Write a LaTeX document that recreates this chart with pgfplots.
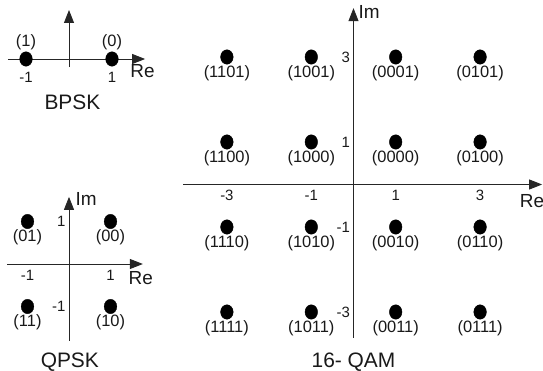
\documentclass[border=0pt]{standalone}
\usepackage{fontspec}
\setmainfont{Liberation Sans}
\usepackage{pgfplots}
\pgfplotsset{compat=1.18}
\usetikzlibrary{arrows.meta}

\pgfplotstableread{
x y label
-1 0 (1)
1 0 (0)
}\bpsk
\pgfplotstableread{
x y label
-1 1 (01)
1 1 (00)
-1 -1 (11)
1 -1 (10)
}\qpsk
\pgfplotstableread{
x y label
-3 3 (1101)
-1 3 (1001)
1 3 (0001)
3 3 (0101)
-3 1 (1100)
-1 1 (1000)
1 1 (0000)
3 1 (0100)
-3 -1 (1110)
-1 -1 (1010)
1 -1 (0010)
3 -1 (0110)
-3 -3 (1111)
-1 -3 (1011)
1 -3 (0011)
3 -3 (0111)
}\qam

\tikzset{
  lbl/.style={font=\fontsize{19}{19}\selectfont, text=black!90},
  ttl/.style={font=\fontsize{21}{21}\selectfont, text=black!90},
}
\pgfplotsset{
  constel/.style={
    axis lines=middle,
    axis line style={line width=0.9bp, black!85, -{Triangle[length=13bp,width=10bp]}},
    major tick length=0pt,
    tick style={draw=none},
    /pgf/number format/assume math mode=true,
    tick label style={font=\fontsize{15}{15}\selectfont, text=black!90},
    xticklabel style={anchor=center, yshift=-11bp},
    anchor=origin,
    clip=false,
  },
  pts/.style={
    only marks, mark=*, mark size=6.3bp,
    mark options={yscale=1.15, fill=black, draw=black},
    point meta=explicit symbolic,
    nodes near coords,
    nodes near coords style={anchor=center, font=\fontsize{16.5}{16.5}\selectfont, text=black!90},
  },
}

\begin{document}
\begin{tikzpicture}
\path[use as bounding box] (0,0) rectangle (543bp,371bp);

% BPSK
\begin{axis}[constel,
  at={(69bp,312bp)},
  x=43bp, y=43bp,
  xmin=-1.42, xmax=1.77, ymin=-0.19, ymax=1.14,
  xtick={-1,1}, xticklabels={-1,1}, ytick=\empty,
  xticklabel style={yshift=-7bp},
]
\addplot[pts, nodes near coords style={yshift=17bp}] table[x=x, y=y, meta=label] {\bpsk};
\node[lbl] at (axis cs:1.71,-0.29) {Re};
\node[ttl] at (axis cs:0.08,-1.01) {BPSK};
\end{axis}

% QPSK
\begin{axis}[constel,
  at={(69bp,107bp)},
  x=41.5bp, y=42.5bp,
  xmin=-1.49, xmax=1.78, ymin=-1.81, ymax=1.58,
  xtick={-1,1}, xticklabels={-1,1},
  ytick={-1,1}, yticklabels={-1,1},
]
\addplot[pts, nodes near coords style={yshift=-16bp}] table[x=x, y=y, meta=label] {\qpsk};
\node[lbl] at (axis cs:1.73,-0.33) {Re};
\node[lbl] at (axis cs:0.41,1.53) {Im};
\node[ttl] at (axis cs:0.02,-2.31) {QPSK};
\end{axis}

% 16-QAM
\begin{axis}[constel,
  at={(353.5bp,186.5bp)},
  x=42.2bp, y=42.5bp,
  xmin=-4.04, xmax=4.47, ymin=-3.61, ymax=4.15,
  xtick={-3,-1,1,3}, xticklabels={-3,-1,1,3},
  ytick={-3,-1,1,3}, yticklabels={-3,-1,1,3},
]
\addplot[pts, nodes near coords style={yshift=-16bp}] table[x=x, y=y, meta=label] {\qam};
\node[lbl] at (axis cs:4.23,-0.39) {Re};
\node[lbl] at (axis cs:0.37,4.07) {Im};
\node[ttl] at (axis cs:0,-4.18) {16- QAM};
\end{axis}
\end{tikzpicture}
\end{document}
